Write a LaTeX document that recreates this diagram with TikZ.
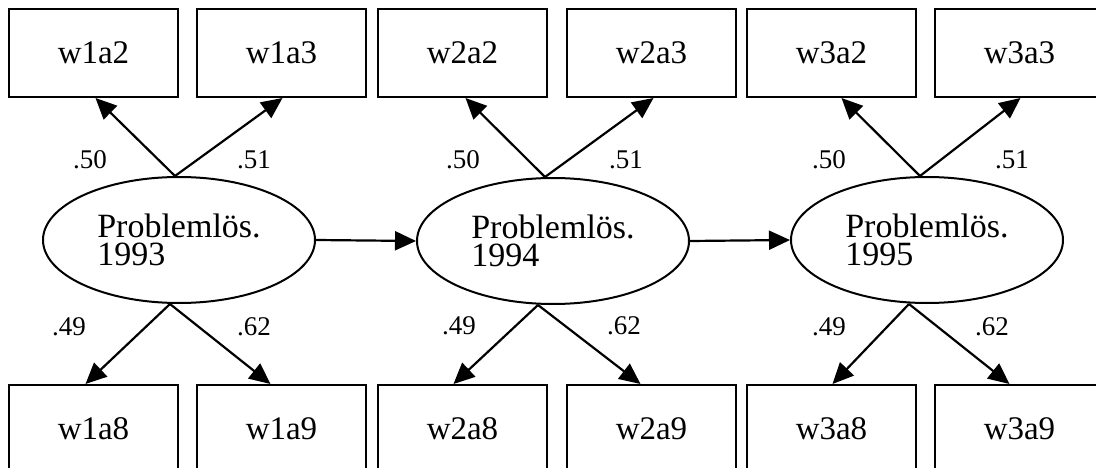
\documentclass[tikz,border=0pt]{standalone}
\usepackage{fontspec}
\setmainfont{Liberation Serif}
\usetikzlibrary{shapes.geometric,arrows.meta}

\tikzset{
  ind/.style={draw, line width=2pt, minimum width=169pt, minimum height=88pt,
    inner sep=0pt, font=\fontsize{33}{36}\selectfont},
  lat/.style={draw, ellipse, line width=2pt, minimum width=272pt, minimum height=126pt,
    inner sep=0pt, align=left, font=\fontsize{34}{28}\selectfont},
  load/.style={inner sep=0pt, font=\fontsize{27}{30}\selectfont},
  arr/.style={line width=2.2pt, -{Triangle[length=21pt,width=19pt]}}
}

\begin{document}
\begin{tikzpicture}[x=1pt, y=-1pt]
       \useasboundingbox (0,0) rectangle (1096,468);
       \clip (0,0) rectangle (1096,468);
       \fill[white] (0,0) rectangle (1096,468);

        %%1993
        \node[lat] (p93) at (179,240) {Problemlös.\\1993};
        \node[ind] (w1a2) at (93.5,53) {w1a2};
        \node[ind] (w1a3) at (281.5,53) {w1a3};
        \node[ind] (w1a8) at (93.5,429) {w1a8};
        \node[ind] (w1a9) at (281.5,429) {w1a9};

          \draw[arr] ([xshift=-4pt]p93.north) to ([xshift=2pt]w1a2.south);
          \draw[arr] ([xshift=-4pt]p93.north) to ([xshift=1pt]w1a3.south);
          \draw[arr] ([xshift=-9pt]p93.south) to ([xshift=-8pt]w1a8.north);
          \draw[arr] ([xshift=-9pt]p93.south) to ([xshift=-11pt]w1a9.north);

        \node[load] (l1a2) at (90,160) {.50};
        \node[load] (l1a3) at (254,160) {.51};
        \node[load] (l1a8) at (69,327) {.49};
        \node[load] (l1a9) at (254,327) {.62};

        %%1994
        \node[lat] (p94) at (553,241) {Problemlös.\\1994};
        \node[ind] (w2a2) at (462.5,53) {w2a2};
        \node[ind] (w2a3) at (651.5,53) {w2a3};
        \node[ind] (w2a8) at (462.5,429) {w2a8};
        \node[ind] (w2a9) at (651.5,429) {w2a9};

          \draw[arr] ([xshift=-8pt]p94.north) to ([xshift=3pt]w2a2.south);
          \draw[arr] ([xshift=-8pt]p94.north) to ([xshift=2pt]w2a3.south);
          \draw[arr] ([xshift=-15pt]p94.south) to ([xshift=-9pt]w2a8.north);
          \draw[arr] ([xshift=-15pt]p94.south) to ([xshift=-11pt]w2a9.north);

        \node[load] (l2a2) at (463,160) {.50};
        \node[load] (l2a3) at (626,160) {.51};
        \node[load] (l2a8) at (459,326) {.49};
        \node[load] (l2a9) at (624,326) {.62};

        %%1995
        \node[lat] (p95) at (927,240) {Problemlös.\\1995};
        \node[ind] (w3a2) at (831.5,53) {w3a2};
        \node[ind] (w3a3) at (1019.5,53) {w3a3};
        \node[ind] (w3a8) at (831.5,429) {w3a8};
        \node[ind] (w3a9) at (1019.5,429) {w3a9};

          \draw[arr] ([xshift=-7pt]p95.north) to ([xshift=10pt]w3a2.south);
          \draw[arr] ([xshift=-7pt]p95.north) to ([xshift=1pt]w3a3.south);
          \draw[arr] ([xshift=-18pt]p95.south) to ([xshift=1pt]w3a8.north);
          \draw[arr] ([xshift=-18pt]p95.south) to ([xshift=-10pt]w3a9.north);

        \node[load] (l3a2) at (829,160) {.50};
        \node[load] (l3a3) at (1012,160) {.51};
        \node[load] (l3a8) at (829,327) {.49};
        \node[load] (l3a9) at (992,327) {.62};

        %%stability
        \draw[arr] (p93.east) to (p94.west);
        \draw[arr] (p94.east) to (p95.west);

      \end{tikzpicture}
\end{document}
